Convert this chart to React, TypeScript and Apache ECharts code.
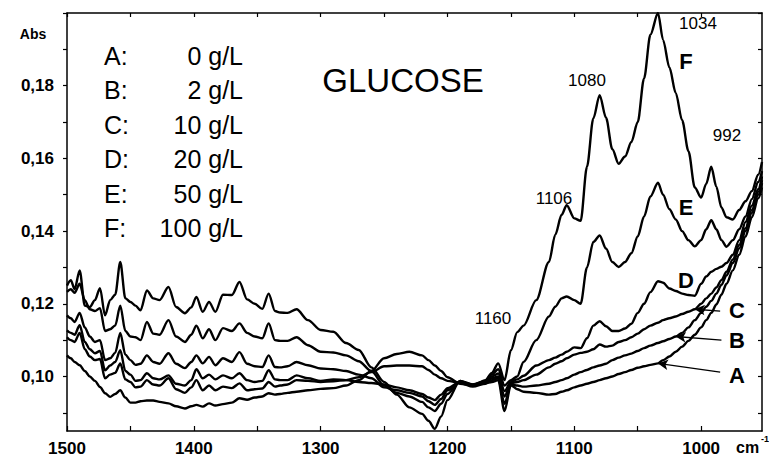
import React, { useEffect, useRef } from "react";
import * as echarts from "echarts";

// Wavenumbers (cm-1) shared by all spectra
const waveNumbers = [
  1500, 1497, 1494, 1490, 1486, 1482, 1478, 1474, 1470, 1466,
  1462, 1458, 1454, 1450, 1446, 1442, 1437, 1432, 1427, 1420,
  1414, 1407, 1402, 1398, 1393, 1388, 1383, 1377, 1370, 1364,
  1358, 1352, 1346, 1341, 1336, 1332, 1326, 1319, 1310, 1300,
  1290, 1280, 1270, 1260, 1250, 1240, 1230, 1220, 1215, 1210,
  1205, 1200, 1190, 1180, 1170, 1165, 1160, 1155, 1150, 1145,
  1140, 1130, 1120, 1115, 1110, 1106, 1100, 1095, 1090, 1085,
  1080, 1075, 1070, 1065, 1060, 1055, 1050, 1045, 1040, 1034,
  1030, 1025, 1020, 1015, 1010, 1005, 1000, 996, 992, 988,
  984, 980, 975, 970, 965, 960, 955, 952,
];

// A: 0 g/L
const absA = [
  0.1058, 0.1050, 0.1040, 0.1031, 0.1015, 0.1000, 0.0988, 0.0971, 0.0954, 0.0944,
  0.0952, 0.0962, 0.0942, 0.0928, 0.0928, 0.0932, 0.0934, 0.0934, 0.0930, 0.0926,
  0.0918, 0.0912, 0.0918, 0.0922, 0.0917, 0.0926, 0.0920, 0.0924, 0.0928, 0.0940,
  0.0936, 0.0942, 0.0945, 0.0954, 0.0950, 0.0952, 0.0955, 0.0958, 0.0962, 0.0966,
  0.0968, 0.0975, 0.0990, 0.1015, 0.1050, 0.1062, 0.1068, 0.1058, 0.1045, 0.1030,
  0.1015, 0.0998, 0.0980, 0.0975, 0.0982, 0.0985, 0.0990, 0.0905, 0.0976, 0.0965,
  0.0958, 0.0955, 0.0950, 0.0952, 0.0958, 0.0962, 0.0970, 0.0975, 0.0980, 0.0985,
  0.0990, 0.0995, 0.1000, 0.1007, 0.1012, 0.1018, 0.1024, 0.1028, 0.1032, 0.1036,
  0.1045, 0.1055, 0.1068, 0.1082, 0.1098, 0.1115, 0.1135, 0.1155, 0.1175, 0.1198,
  0.1225, 0.1255, 0.1292, 0.1335, 0.1385, 0.1438, 0.1490, 0.1520,
];

// B: 2 g/L
const absB = [
  0.1108, 0.1100, 0.1095, 0.1120, 0.1075, 0.1055, 0.1045, 0.1048, 0.0995, 0.1005,
  0.1010, 0.1036, 0.0992, 0.0985, 0.0970, 0.0972, 0.0990, 0.0978, 0.0975, 0.0995,
  0.0965, 0.0955, 0.0970, 0.0990, 0.0962, 0.0975, 0.0962, 0.0972, 0.0968, 0.0981,
  0.0962, 0.0965, 0.0967, 0.0985, 0.0972, 0.0975, 0.0978, 0.0990, 0.0988, 0.0985,
  0.0987, 0.0990, 0.0998, 0.1012, 0.1028, 0.1030, 0.1030, 0.1028, 0.1018, 0.1005,
  0.0995, 0.0988, 0.0982, 0.0972, 0.0980, 0.0990, 0.0995, 0.0925, 0.0978, 0.0975,
  0.0972, 0.0975, 0.0980, 0.0985, 0.0990, 0.0995, 0.1005, 0.1012, 0.1018, 0.1025,
  0.1030, 0.1035, 0.1045, 0.1052, 0.1058, 0.1063, 0.1070, 0.1078, 0.1085, 0.1092,
  0.1097, 0.1103, 0.1110, 0.1120, 0.1135, 0.1155, 0.1175, 0.1192, 0.1208, 0.1228,
  0.1252, 0.1278, 0.1312, 0.1352, 0.1400, 0.1450, 0.1500, 0.1532,
];

// C: 10 g/L
const absC = [
  0.1127, 0.1120, 0.1115, 0.1141, 0.1095, 0.1075, 0.1064, 0.1070, 0.1017, 0.1030,
  0.1040, 0.1072, 0.1015, 0.1005, 0.0988, 0.0990, 0.1009, 0.0995, 0.0992, 0.1003,
  0.0980, 0.0975, 0.0990, 0.1020, 0.0995, 0.1005, 0.0992, 0.1003, 0.0995, 0.1009,
  0.0990, 0.0985, 0.0988, 0.1017, 0.0992, 0.0990, 0.0990, 0.1003, 0.0995, 0.0988,
  0.0992, 0.0990, 0.0985, 0.0982, 0.0978, 0.0970, 0.0962, 0.0952, 0.0942, 0.0935,
  0.0950, 0.0968, 0.0985, 0.0976, 0.0983, 0.0995, 0.1000, 0.0945, 0.0982, 0.0985,
  0.0990, 0.1005, 0.1025, 0.1035, 0.1042, 0.1050, 0.1060, 0.1065, 0.1068, 0.1075,
  0.1088, 0.1082, 0.1085, 0.1095, 0.1100, 0.1108, 0.1118, 0.1130, 0.1140, 0.1148,
  0.1155, 0.1160, 0.1165, 0.1172, 0.1178, 0.1185, 0.1200, 0.1215, 0.1228, 0.1245,
  0.1265, 0.1288, 0.1322, 0.1362, 0.1408, 0.1458, 0.1508, 0.1540,
];

// D: 20 g/L
const absD = [
  0.1168, 0.1160, 0.1150, 0.1175, 0.1135, 0.1110, 0.1095, 0.1100, 0.1045, 0.1050,
  0.1065, 0.1120, 0.1060, 0.1045, 0.1032, 0.1035, 0.1058, 0.1040, 0.1035, 0.1064,
  0.1035, 0.1023, 0.1040, 0.1058, 0.1036, 0.1054, 0.1031, 0.1050, 0.1040, 0.1067,
  0.1035, 0.1028, 0.1026, 0.1058, 0.1026, 0.1025, 0.1028, 0.1040, 0.1031, 0.1022,
  0.1020, 0.1015, 0.1005, 0.0995, 0.0970, 0.0962, 0.0955, 0.0945, 0.0932, 0.0922,
  0.0938, 0.0962, 0.0985, 0.0978, 0.0985, 0.1000, 0.1008, 0.0960, 0.0985, 0.0992,
  0.1002, 0.1030, 0.1045, 0.1052, 0.1060, 0.1068, 0.1080, 0.1078, 0.1105, 0.1140,
  0.1152, 0.1138, 0.1125, 0.1125, 0.1132, 0.1145, 0.1175, 0.1200, 0.1232, 0.1262,
  0.1258, 0.1242, 0.1235, 0.1228, 0.1224, 0.1222, 0.1255, 0.1275, 0.1288, 0.1296,
  0.1302, 0.1312, 0.1335, 0.1375, 0.1425, 0.1470, 0.1515, 0.1550,
];

// E: 50 g/L
const absE = [
  0.1233, 0.1240, 0.1230, 0.1255, 0.1210, 0.1185, 0.1180, 0.1188, 0.1125, 0.1130,
  0.1140, 0.1195, 0.1125, 0.1110, 0.1108, 0.1100, 0.1150, 0.1118, 0.1115, 0.1155,
  0.1110, 0.1095, 0.1115, 0.1140, 0.1105, 0.1130, 0.1100, 0.1133, 0.1125, 0.1146,
  0.1120, 0.1110, 0.1105, 0.1146, 0.1100, 0.1098, 0.1098, 0.1108, 0.1086, 0.1068,
  0.1066, 0.1058, 0.1042, 0.1015, 0.0975, 0.0955, 0.0945, 0.0930, 0.0915, 0.0905,
  0.0925, 0.0952, 0.0988, 0.0978, 0.0988, 0.1005, 0.1020, 0.0975, 0.0990, 0.1000,
  0.1040, 0.1100, 0.1165, 0.1192, 0.1215, 0.1220, 0.1210, 0.1200, 0.1300, 0.1370,
  0.1388, 0.1352, 0.1315, 0.1301, 0.1315, 0.1339, 0.1385, 0.1440, 0.1495, 0.1533,
  0.1500, 0.1460, 0.1432, 0.1400, 0.1375, 0.1358, 0.1375, 0.1405, 0.1430, 0.1405,
  0.1375, 0.1357, 0.1375, 0.1405, 0.1440, 0.1488, 0.1535, 0.1565,
];

// F: 100 g/L
const absF = [
  0.1250, 0.1265, 0.1240, 0.1292, 0.1195, 0.1191, 0.1210, 0.1243, 0.1168, 0.1210,
  0.1225, 0.1315, 0.1215, 0.1205, 0.1195, 0.1182, 0.1237, 0.1215, 0.1210, 0.1246,
  0.1191, 0.1174, 0.1190, 0.1219, 0.1178, 0.1205, 0.1178, 0.1225, 0.1224, 0.1260,
  0.1212, 0.1200, 0.1186, 0.1228, 0.1180, 0.1176, 0.1175, 0.1185, 0.1155, 0.1128,
  0.1123, 0.1092, 0.1073, 0.1025, 0.0985, 0.0950, 0.0915, 0.0897, 0.0878, 0.0856,
  0.0890, 0.0935, 0.0988, 0.0975, 0.0990, 0.1010, 0.1036, 0.0990, 0.1072, 0.1122,
  0.1140, 0.1210, 0.1315, 0.1390, 0.1445, 0.1471, 0.1435, 0.1428, 0.1577, 0.1710,
  0.1774, 0.1712, 0.1625, 0.1585, 0.1605, 0.1645, 0.1700, 0.1820, 0.1940, 0.2000,
  0.1926, 0.1850, 0.1780, 0.1705, 0.1620, 0.1520, 0.1492, 0.1530, 0.1577, 0.1522,
  0.1465, 0.1438, 0.1432, 0.1458, 0.1482, 0.1510, 0.1555, 0.1590,
];

const seriesNames = ["A", "B", "C", "D", "E", "F"];
const concentrations = ["0 g/L", "2 g/L", "10 g/L", "20 g/L", "50 g/L", "100 g/L"];
const peakWavenumbers = ["1034", "1080", "992", "1106", "1160"];
const xLabelValues = [1000, 1100, 1200, 1300, 1400, 1500];
const xTickValues = [1000, 1050, 1100, 1150, 1200, 1250, 1300, 1350, 1400, 1450, 1500];
const yLabelValues = [0.1, 0.12, 0.14, 0.16, 0.18];
const yTickValues = [0.09, 0.1, 0.11, 0.12, 0.13, 0.14, 0.15, 0.16, 0.17, 0.18, 0.19, 0.2];

const FONT = "'Liberation Sans', Arial, Helvetica, sans-serif";

export default function App() {
  const ref = useRef<HTMLDivElement>(null);

  useEffect(() => {
    if (!ref.current) return;
    const chart = echarts.init(ref.current, undefined, { renderer: "svg" });

    const allSeries = [absA, absB, absC, absD, absE, absF];
    // arrow annotations (tail -> tip on curve) for A, B, C
    const arrowDefs: Record<number, { tail: [number, number]; tipIdx: number }> = {
      0: { tail: [985, 0.1012], tipIdx: 79 },
      1: { tail: [984, 0.1100], tipIdx: 82 },
      2: { tail: [985, 0.1180], tipIdx: 85 },
    };

    const series = allSeries.map((arr, k) => {
      const s: any = {
        type: "line",
        name: seriesNames[k],
        data: waveNumbers.map((w, i) => [w, arr[i]]),
        showSymbol: false,
        symbol: "none",
        smooth: 0.3,
        smoothMonotone: "x",
        silent: true,
        clip: true,
        lineStyle: { color: "#000", width: 2.4 },
        z: 3,
      };
      const a = arrowDefs[k];
      if (a) {
        s.markLine = {
          silent: true,
          symbol: ["none", "arrow"],
          symbolSize: [8, 10],
          label: { show: false },
          lineStyle: { color: "#000", width: 1.3, type: "solid" },
          emphasis: { disabled: true },
          data: [[{ coord: a.tail }, { coord: [waveNumbers[a.tipIdx], arr[a.tipIdx]] }]],
        };
      }
      return s;
    });

    const axisLineStyle = { color: "#000", width: 1.5 };
    const tickStyle = { color: "#000", width: 1.2 };
    const labelStyle = { color: "#000", fontSize: 17, fontWeight: "bold", fontFamily: FONT };

    const graphics: any[] = [];
    graphics.push({
      type: "text", x: 33, y: 34,
      style: { text: "Abs", font: `bold 14px ${FONT}`, fill: "#000", align: "center", verticalAlign: "middle" },
    });
    seriesNames.forEach((n, i) => {
      const y = 56 + i * 34.4;
      graphics.push({
        type: "text", x: 104, y,
        style: { text: `${n}:`, font: `normal 25px ${FONT}`, fill: "#000", align: "left", verticalAlign: "middle" },
      });
      graphics.push({
        type: "text", x: 243, y,
        style: { text: concentrations[i], font: `normal 25px ${FONT}`, fill: "#000", align: "right", verticalAlign: "middle" },
      });
    });
    graphics.push({
      type: "text", x: 403, y: 80,
      style: { text: "GLUCOSE", font: `normal 33px ${FONT}`, fill: "#000", align: "center", verticalAlign: "middle" },
    });
    const peakPos: [number, number][] = [[698, 23], [587, 80], [727, 135], [554, 198], [493, 318]];
    peakWavenumbers.forEach((t, i) => {
      graphics.push({
        type: "text", x: peakPos[i][0], y: peakPos[i][1],
        style: { text: t, font: `normal 17px ${FONT}`, fill: "#000", align: "center", verticalAlign: "middle" },
      });
    });
    const letterPos: Record<string, [number, number]> = {
      F: [686, 61], E: [686, 207], D: [686, 280], C: [737, 310], B: [737, 340], A: [737, 375],
    };
    Object.keys(letterPos).forEach((l) => {
      graphics.push({
        type: "text", x: letterPos[l][0], y: letterPos[l][1],
        style: { text: l, font: `bold 22px ${FONT}`, fill: "#000", align: "center", verticalAlign: "middle" },
      });
    });
    graphics.push({
      type: "text", x: 736, y: 447,
      style: { text: "cm", font: `bold 16px ${FONT}`, fill: "#000", align: "left", verticalAlign: "middle" },
    });
    graphics.push({
      type: "text", x: 761, y: 439,
      style: { text: "-1", font: `bold 9px ${FONT}`, fill: "#000", align: "left", verticalAlign: "middle" },
    });

    const option: any = {
      animation: false,
      backgroundColor: "#fff",
      grid: { left: 67, right: 7, top: 13, bottom: 31, containLabel: false },
      xAxis: [
        {
          type: "value", min: 952, max: 1500, inverse: true, position: "bottom",
          axisLine: { show: true, onZero: false, lineStyle: axisLineStyle },
          axisTick: { show: true, inside: true, length: 5, customValues: xTickValues, lineStyle: tickStyle },
          axisLabel: { ...labelStyle, customValues: xLabelValues, margin: 9, formatter: (v: number) => String(v) },
          splitLine: { show: false },
        },
        {
          type: "value", min: 952, max: 1500, inverse: true, position: "top",
          axisLine: { show: true, onZero: false, lineStyle: axisLineStyle },
          axisTick: { show: true, inside: true, length: 4, customValues: xTickValues, lineStyle: tickStyle },
          axisLabel: { show: false },
          splitLine: { show: false },
        },
      ],
      yAxis: [
        {
          type: "value", min: 0.085, max: 0.2, position: "left",
          axisLine: { show: true, onZero: false, lineStyle: axisLineStyle },
          axisTick: { show: true, inside: false, length: 4, customValues: yTickValues, lineStyle: tickStyle },
          axisLabel: {
            ...labelStyle, customValues: yLabelValues, margin: 13,
            formatter: (v: number) => v.toFixed(2).replace(".", ","),
          },
          splitLine: { show: false },
        },
        {
          type: "value", min: 0.085, max: 0.2, position: "right",
          axisLine: { show: true, onZero: false, lineStyle: axisLineStyle },
          axisTick: { show: true, inside: true, length: 4, customValues: yTickValues, lineStyle: tickStyle },
          axisLabel: { show: false },
          splitLine: { show: false },
        },
      ],
      series,
      graphic: graphics,
    };

    chart.setOption(option);
    return () => chart.dispose();
  }, []);

  return (
    <div
      ref={ref}
      style={{ position: "fixed", left: 0, top: 0, width: 769, height: 462, background: "#fff" }}
    />
  );
}
